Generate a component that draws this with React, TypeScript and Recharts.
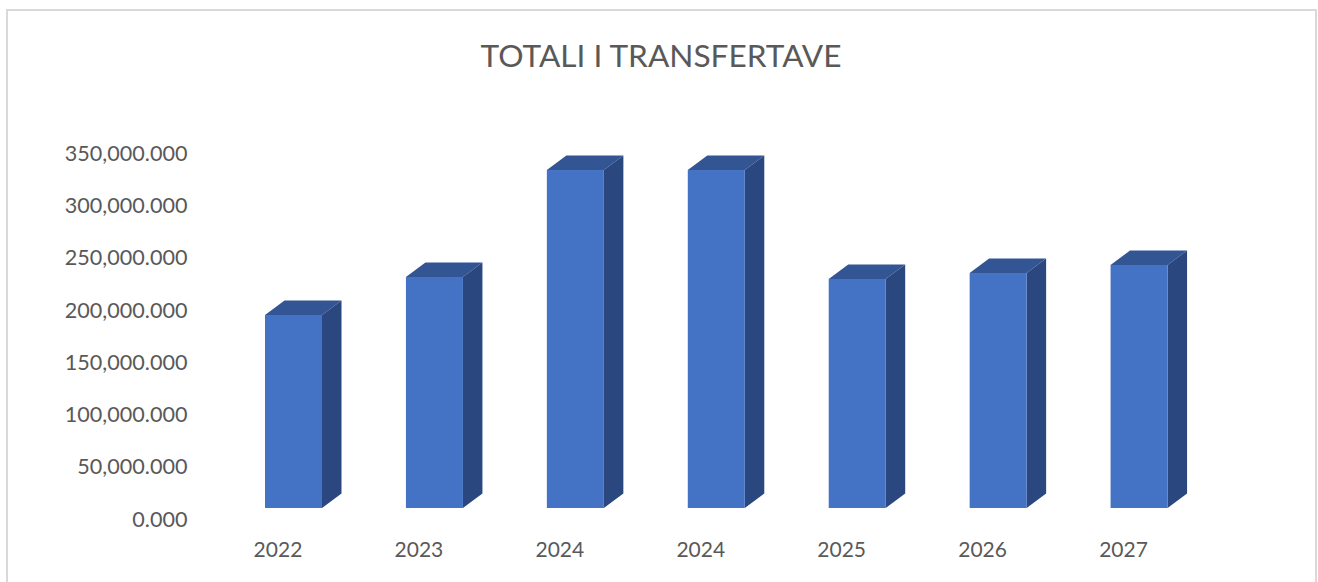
import React from 'react'
import { BarChart, Bar, XAxis, YAxis } from 'recharts'

const years = ['2022', '2023', '2024', '2024', '2025', '2026', '2027']
const totals = [184600, 220900, 323200, 323200, 219000, 224700, 232400]
const yTicks = [0, 50000, 100000, 150000, 200000, 250000, 300000, 350000]

const chartData = years.map((year, i) => ({ year, total: totals[i] }))

const formatTick = (value: number) =>
  value.toLocaleString('en-US', { minimumFractionDigits: 3, maximumFractionDigits: 3 })

// Excel style 3D column: the front face sits in front of the axis wall
const Column3D = (props: any) => {
  const { x, y, width, height } = props
  const shiftX = 15.5
  const shiftY = -11
  const dx = 19.5
  const dy = -14.5
  const left = x + shiftX
  const right = left + width
  const top = y + shiftY
  const bottom = top + height

  return (
    <g>
      <polygon
        points={`${left},${top} ${left + dx},${top + dy} ${right + dx},${top + dy} ${right},${top}`}
        fill="#335593"
      />
      <polygon
        points={`${right},${top} ${right + dx},${top + dy} ${right + dx},${bottom + dy} ${right},${bottom}`}
        fill="#2A4780"
      />
      <rect x={left} y={top} width={width} height={height} fill="#4472C4" />
    </g>
  )
}

const App = () => {
  return (
    <div
      style={{
        position: 'absolute',
        left: 0,
        top: 0,
        width: 1318,
        height: 582,
        background: '#fff',
        overflow: 'hidden',
        fontFamily: 'Lato, sans-serif',
      }}
    >
      <div
        style={{
          position: 'absolute',
          left: 6,
          top: 9,
          width: 1307,
          height: 600,
          border: '2px solid #D9D9D9',
        }}
      />
      <div
        style={{
          position: 'absolute',
          left: 0,
          top: 34,
          width: 1322,
          textAlign: 'center',
          fontSize: 31.6,
          lineHeight: '42px',
          color: '#595959',
        }}
      >
        TOTALI I TRANSFERTAVE
      </div>
      <div style={{ position: 'absolute', left: 0, top: 0 }}>
        <BarChart
          width={1318}
          height={582}
          data={chartData}
          margin={{ top: 153, right: 124, bottom: 0, left: 0 }}
        >
          <XAxis
            dataKey="year"
            height={63}
            axisLine={false}
            tickLine={false}
            tickSize={0}
            tickMargin={23}
            tick={{ fill: '#595959', fontSize: 21, fontFamily: 'Lato, sans-serif' }}
          />
          <YAxis
            width={207.5}
            domain={[0, 350000]}
            ticks={yTicks}
            tickFormatter={formatTick}
            axisLine={false}
            tickLine={false}
            tickSize={0}
            tickMargin={20}
            tick={{ fill: '#595959', fontSize: 21.6, fontFamily: 'Lato, sans-serif' }}
          />
          <Bar dataKey="total" barSize={57} shape={Column3D} isAnimationActive={false} />
        </BarChart>
      </div>
    </div>
  )
}

export default App
